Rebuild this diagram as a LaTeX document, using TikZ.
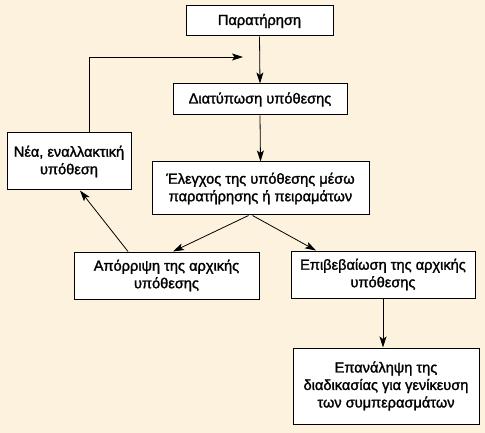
\documentclass[tikz,border=0pt]{standalone}
\usepackage{fontspec}
\setmainfont{Liberation Sans}
\newfontfamily\boxfont{Liberation Sans}[FakeBold=1.6]
\usetikzlibrary{positioning,arrows.meta}
\definecolor{paper}{RGB}{253,242,222}

\begin{document}
\begin{tikzpicture}
  [x=1pt,y=-1pt,font=\boxfont\fontsize{14.6}{17.5}\selectfont,
   every node/.style={rectangle,draw,fill=white,line width=1pt,align=center,inner sep=0pt},
   link/.style={-{Stealth[length=11pt,width=7pt,inset=2.5pt]},line width=0.8pt}]
  \fill[paper] (0,0) rectangle (485,433);
  \useasboundingbox (0,0) rectangle (485,433);

  \node[minimum width=147,minimum height=30] (par) at (259.5,21) {Παρατήρηση};
  \node[minimum width=174,minimum height=31] (diat) at (260,99.5) {Διατύπωση υπόθεσης};
  \node[minimum width=124,minimum height=57] (neo) at (69,161.5) {Νέα, εναλλακτική\\υπόθεση};
  \node[minimum width=217,minimum height=53] (elegx) at (260.5,188.5) {Έλεγχος της υπόθεσης μέσω\\παρατήρησης ή πειραμάτων};
  \node[minimum width=185,minimum height=47] (apor) at (166.5,275.5) {Απόρριψη της αρχικής\\υπόθεσης};
  \node[minimum width=184,minimum height=47] (epib) at (383,274.5) {Επιβεβαίωση της αρχικής\\υπόθεσης};
  \node[minimum width=186,minimum height=76] (epan) at (386,386) {Επανάληψη της\\διαδικασίας για γενίκευση\\των συμπερασμάτων};

  \coordinate (elegxL) at ([xshift=-12pt]elegx.south);
  \coordinate (elegxR) at ([xshift=-8pt]elegx.south);
  \coordinate (aporIn) at ([xshift=6.5pt]apor.north);
  \coordinate (epibIn) at ([xshift=-67pt]epib.north);
  \coordinate (aporOut) at ([xshift=-38.5pt]apor.north);
  \coordinate (neoIn) at ([xshift=11pt]neo.south);
  \coordinate (neoOut) at ([xshift=20pt]neo.north);
  \coordinate (turn) at (neoOut |- 0,57);
  \coordinate (back) at (243,57);

  \foreach \from/\to in {par.south/diat.north,diat.south/elegx.north,elegxL/aporIn,elegxR/epibIn,aporOut/neoIn}
    \draw[link] (\from) -- (\to);
  \draw[link] (epib.south) -- (epib.south |- epan.north);
  \draw[link] (neoOut) -- (turn) -- (back);
\end{tikzpicture}
\end{document}
